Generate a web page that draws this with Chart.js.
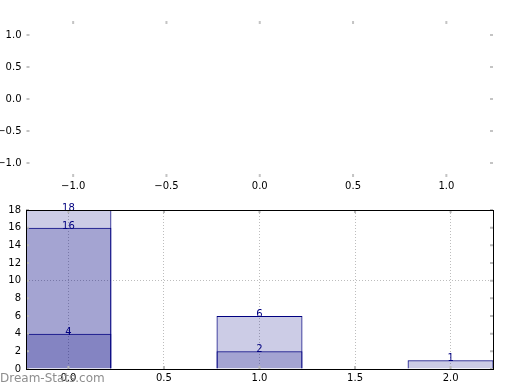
<!DOCTYPE html>
<html lang="en">
<head>
  <meta charset="UTF-8" />
  <title>Bars</title>
  <script src="https://cdn.jsdelivr.net/npm/chart.js"></script>
  <style>
    body { margin: 0; background: #fff; }
    .wrap { position: relative; width: 520px; height: 390px; }
    canvas { position: absolute; left: 0; }
    #topChart { top: 0; }
    #barChart { top: 195px; }
    .mark {
      position: absolute; left: 0; top: 371px;
      font: 12px "DejaVu Sans", sans-serif; color: #8e8e8e;
    }
  </style>
</head>
<body>
  <div class="wrap">
    <canvas id="topChart" width="520" height="195"></canvas>
    <canvas id="barChart" width="520" height="195"></canvas>
    <div class="mark">Dream-Stats.com</div>
  </div>

  <script>
    // empty upper axes
    const topXTicks = [-1.0, -0.5, 0.0, 0.5, 1.0];
    const topYTicks = [-1.0, -0.5, 0.0, 0.5, 1.0];

    // bar panel
    const positions = [0, 1, 2];
    const seriesA = [18, 6, 1];
    const seriesB = [16, 2, null];
    const seriesC = [4, null, null];
    const barXTicks = [0.0, 0.5, 1.0, 1.5, 2.0];
    const barYTicks = [0, 2, 4, 6, 8, 10, 12, 14, 16, 18];

    Chart.defaults.font.family = '"DejaVu Sans", sans-serif';
    Chart.defaults.font.size = 10;
    Chart.defaults.color = '#000';

    const fmt = v => (v < 0 ? '\u2212' : '') + Math.abs(v).toFixed(1);

    // matplotlib style ticks pointing inwards on all four sides
    const innerTicks = {
      id: 'innerTicks',
      afterDraw(chart, args, opts) {
        const { ctx, chartArea: a, scales } = chart;
        ctx.save();
        ctx.strokeStyle = opts.color || '#bdbdbd';
        ctx.lineWidth = 2;
        ctx.beginPath();
        scales.x.ticks.forEach(t => {
          const px = scales.x.getPixelForValue(t.value);
          ctx.moveTo(px, a.top); ctx.lineTo(px, a.top + 3);
          ctx.moveTo(px, a.bottom); ctx.lineTo(px, a.bottom - 3);
        });
        scales.y.ticks.forEach(t => {
          const py = scales.y.getPixelForValue(t.value);
          ctx.moveTo(a.left, py); ctx.lineTo(a.left + 3, py);
          ctx.moveTo(a.right, py); ctx.lineTo(a.right - 3, py);
        });
        ctx.stroke();
        if (opts.frame) {
          ctx.strokeStyle = '#000';
          ctx.lineWidth = 1;
          ctx.strokeRect(Math.round(a.left) + 0.5, Math.round(a.top) + 0.5,
            Math.round(a.right - a.left), Math.round(a.bottom - a.top));
        }
        ctx.restore();
      }
    };

    const barLabels = {
      id: 'barLabels',
      afterDatasetsDraw(chart) {
        const ctx = chart.ctx;
        ctx.save();
        ctx.fillStyle = 'navy';
        ctx.font = '10px "DejaVu Sans", sans-serif';
        ctx.textAlign = 'center';
        ctx.textBaseline = 'alphabetic';
        chart.data.datasets.forEach((ds, i) => {
          chart.getDatasetMeta(i).data.forEach((bar, j) => {
            ctx.fillText(String(ds.data[j].y), bar.x, bar.y + 1);
          });
        });
        ctx.restore();
      }
    };

    new Chart(document.getElementById('topChart'), {
      type: 'scatter',
      data: { datasets: [{ data: [] }] },
      options: {
        responsive: false,
        animation: false,
        layout: { padding: { top: 21, right: 27, left: 0, bottom: 0 } },
        plugins: { legend: { display: false }, tooltip: { enabled: false },
          innerTicks: { color: '#c4c4c4' } },
        scales: {
          x: {
            type: 'linear', min: -1.25, max: 1.25,
            afterBuildTicks: s => { s.ticks = topXTicks.map(v => ({ value: v })); },
            afterFit: s => { s.height = 18; },
            grid: { display: false, drawTicks: false },
            border: { display: false },
            ticks: { padding: 3, callback: fmt, maxRotation: 0 }
          },
          y: {
            min: -1.22, max: 1.22,
            afterBuildTicks: s => { s.ticks = topYTicks.map(v => ({ value: v })); },
            afterFit: s => { s.width = 26.5; },
            grid: { display: false, drawTicks: false },
            border: { display: false },
            ticks: { padding: 5, callback: fmt }
          }
        }
      },
      plugins: [innerTicks]
    });

    const toPoints = arr => positions
      .map((x, i) => ({ x: x, y: arr[i] }))
      .filter(p => p.y !== null);

    const barStyle = {
      backgroundColor: 'rgba(0, 0, 128, 0.2)',
      borderColor: 'navy',
      borderWidth: 1,
      borderSkipped: 'start'
    };

    // bar width follows the 0.5 tick spacing: 0.9 of it = 0.45 data units
    new Chart(document.getElementById('barChart'), {
      type: 'bar',
      data: {
        datasets: [
          Object.assign({ data: toPoints(seriesA) }, barStyle),
          Object.assign({ data: toPoints(seriesB) }, barStyle),
          Object.assign({ data: toPoints(seriesC) }, barStyle)
        ]
      },
      options: {
        responsive: false,
        animation: false,
        grouped: false,
        categoryPercentage: 1,
        barPercentage: 0.9,
        layout: { padding: { top: 15, right: 27, left: 0, bottom: 0 } },
        plugins: { legend: { display: false }, tooltip: { enabled: false },
          innerTicks: { color: '#b8b8b8', frame: true } },
        scales: {
          x: {
            type: 'linear', min: -0.222, max: 2.222, offset: false,
            afterBuildTicks: s => { s.ticks = barXTicks.map(v => ({ value: v })); },
            afterFit: s => { s.height = 21; },
            grid: { color: '#bdbdbd', drawTicks: false, offset: false },
            border: { display: false, dash: [1, 2] },
            ticks: { padding: 3, callback: fmt, maxRotation: 0 }
          },
          y: {
            min: 0, max: 18,
            afterBuildTicks: s => { s.ticks = barYTicks.map(v => ({ value: v })); },
            afterFit: s => { s.width = 26; },
            grid: {
              drawTicks: false,
              color: c => (c.tick && c.tick.value === 10 ? '#bdbdbd' : 'rgba(0,0,0,0)')
            },
            border: { display: false, dash: [1, 2] },
            ticks: { padding: 5, callback: v => String(v) }
          }
        }
      },
      plugins: [innerTicks, barLabels]
    });
  </script>
</body>
</html>
